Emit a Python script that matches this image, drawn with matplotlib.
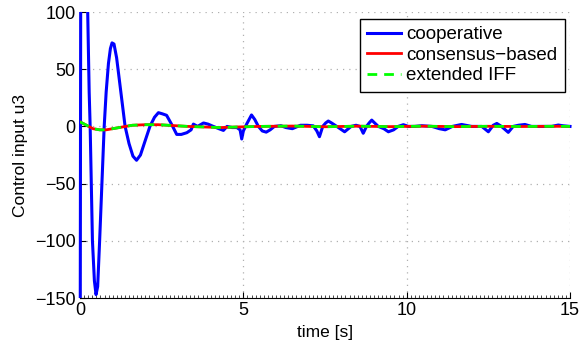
import matplotlib
matplotlib.use("Agg")
import matplotlib.pyplot as plt
from matplotlib.ticker import MultipleLocator
from matplotlib.patches import Rectangle

plt.rcParams['font.family'] = ['Liberation Sans', 'DejaVu Sans']

# cooperative (blue)
t_coop = [0, 0.03, 0.1, 0.2, 0.235, 0.28, 0.31, 0.38, 0.44, 0.49,
          0.54, 0.6, 0.67, 0.74, 0.8, 0.87, 0.93, 0.98, 1.04, 1.12,
          1.25, 1.38, 1.5, 1.62, 1.73, 1.85, 2.0, 2.14, 2.28, 2.4,
          2.52, 2.65, 2.8, 2.96, 3.1, 3.27, 3.4, 3.47, 3.6, 3.78,
          3.92, 4.08, 4.25, 4.39, 4.5, 4.65, 4.8, 4.9, 4.95, 5.0,
          5.1, 5.25, 5.35, 5.46, 5.58, 5.7, 5.82, 5.95, 6.15, 6.3,
          6.5, 6.75, 6.95, 7.14, 7.25, 7.33, 7.43, 7.52, 7.6, 7.7,
          7.86, 8.1, 8.3, 8.45, 8.57, 8.67, 8.77, 8.85, 8.93, 9.02,
          9.13, 9.3, 9.44, 9.6, 9.74, 9.9, 10.05, 10.25, 10.46, 10.77,
          11.0, 11.18, 11.4, 11.68, 11.99, 12.3, 12.5, 12.65, 12.76, 12.9,
          13.11, 13.26, 13.42, 13.62, 13.82, 14.13, 14.44, 14.64, 14.8, 15.0]
u_coop = [-300, 300, 260, 160, 100, 30, 0, -100, -135, -147,
          -140, -100, -50, 0, 30, 55, 68, 73, 72, 60,
          30, 0, -15, -26, -29.6, -25, -12, 0, 8, 12,
          11, 9.7, 2, -7, -7, -5.5, -3, 2, 0, 3,
          2, 0, -2, -3.5, 0, -1, -1, -3, -11, -4,
          2, 10, 6, 0, -4, -5, -3, 0, 0.6, -1,
          -2, 1, 1, 0.5, -4, -9, 0, 3, 4.7, 3,
          0, -4.7, 0, 1, 0, -6, 0, 3, 5.5, 3,
          0, -2, -4.7, -3, 0, 1.5, 0, 0, 0.6, 0,
          -2, -3, 0, 1.7, 0, 0, -4.7, 1, 2.6, 0,
          -5.2, 0, 1, 1.7, 0, 0, 0, 1.2, 0.5, 0]

# consensus-based (red) and extended IFF (green)
t_smooth = [0, 0.2, 0.4, 0.6, 0.8, 1.0, 1.3, 1.6, 2.0, 2.4, 2.8, 3.3, 3.8,
            4.3, 4.8, 5.5, 6.5, 7.5, 8.5, 9.5, 10.5, 11.5, 12.5, 13.5, 14.5, 15]
u_cons = [4, 1, -2, -3, -3, -2, -0.5, 1, 1.5, 1.5, 0.8, 0, -0.5,
          -1, -0.5, 0, 0.3, -0.3, 0.2, -0.2, 0.2, -0.2, 0.1, -0.1, 0.1, 0]
u_iff = [4, 1, -2, -3, -3, -2, -0.5, 1, 1.5, 1.5, 0.8, 0, -0.5,
         -1, -0.5, 0, 0.3, -0.3, 0.2, -0.2, 0.2, -0.2, 0.1, -0.1, 0.1, 0]

labels = ['cooperative', 'consensus\u2212based', 'extended IFF']

fs_tick = 13
fs_lab = 12.5
fs_leg = 13.5
fig = plt.figure(figsize=(5.82, 3.47), dpi=100)
ax = fig.add_axes([0.1375, 0.1412, 0.8419, 0.8242])

clip = Rectangle((-0.006, 0), 1.012, 1, transform=ax.transAxes,
                 facecolor='none', edgecolor='none')
l1, = ax.plot(t_coop, u_coop, color='#0000ff', lw=2.2, label=labels[0], zorder=3)
l1.set_clip_path(clip)
ax.plot(t_smooth, u_cons, color='#ff0000', lw=2.0, label=labels[1], zorder=3)
ax.plot(t_smooth, u_iff, color='#00ff00', lw=2.0, ls=(0, (3.5, 2.5)),
        label=labels[2], zorder=3)

ax.set_xlim(0, 15)
ax.set_ylim(-150, 100)
ax.set_xticks([0, 5, 10, 15])
ax.set_yticks([-150, -100, -50, 0, 50, 100])
ax.xaxis.set_minor_locator(MultipleLocator(0.125))
ax.tick_params(which='major', direction='in', length=4, labelsize=fs_tick, width=0.8)
ax.tick_params(which='minor', direction='in', length=2, width=0.5)
ax.tick_params(axis='x', pad=3)
ax.tick_params(axis='y', pad=3)
ax.grid(True, which='major', color='#b0b0b0', ls=(0, (1, 4)), lw=0.9)
ax.spines['top'].set_visible(False)
ax.spines['right'].set_visible(False)
ax.set_xlabel('time [s]', fontsize=fs_lab, labelpad=4)
ax.set_ylabel('Control input u3', fontsize=fs_lab, labelpad=5)

leg = ax.legend(loc='upper right', bbox_to_anchor=(0.99, 0.976), fontsize=fs_leg,
                frameon=True, fancybox=False, handlelength=1.8,
                borderpad=0.4, labelspacing=0.18, handletextpad=0.3,
                borderaxespad=0, framealpha=1)
leg.get_frame().set_edgecolor('black')
leg.get_frame().set_linewidth(1.0)

fig.savefig('out.png', dpi=100)
